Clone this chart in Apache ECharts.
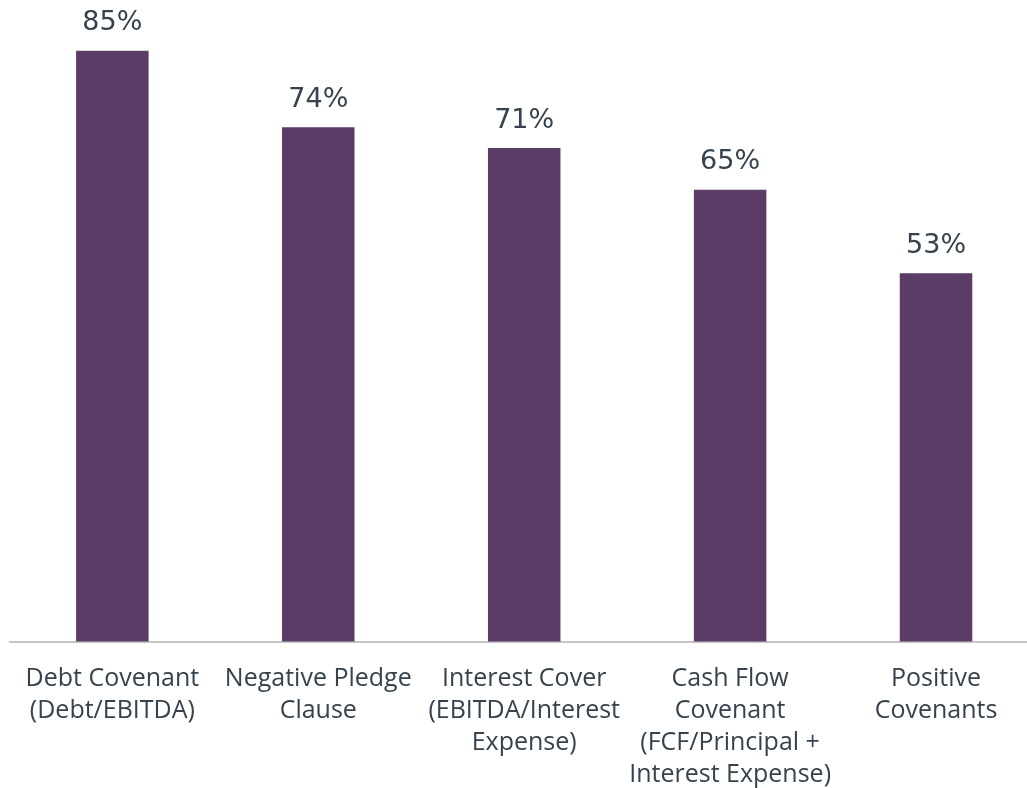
<!DOCTYPE html>
<html>
<head>
<meta charset="utf-8">
<script src="https://cdn.jsdelivr.net/npm/echarts@6/dist/echarts.min.js"></script>
<style>
  html, body { margin: 0; padding: 0; background: #ffffff; overflow: hidden; }
  #chart { width: 1039px; height: 788px; }
</style>
</head>
<body>
<div id="chart"></div>
<script>
// Covenant types and share of deals that include them
const categories = [
  'Debt Covenant\n(Debt/EBITDA)',
  'Negative Pledge\nClause',
  'Interest Cover\n(EBITDA/Interest\nExpense)',
  'Cash Flow\nCovenant\n(FCF/Principal +\nInterest Expense)',
  'Positive\nCovenants'
];
const shares = [85, 74, 71, 65, 53];

const chart = echarts.init(document.getElementById('chart'));
chart.setOption({
  animation: false,
  grid: {
    left: 9.4, right: 0, top: 0, bottom: 146.5,
    containLabel: false,
    outerBoundsMode: 'none'
  },
  xAxis: {
    type: 'category',
    data: categories,
    axisTick: { show: false },
    axisLine: { lineStyle: { color: '#b3b3b3', width: 1.5 } },
    axisLabel: {
      interval: 0,
      margin: 21,
      color: '#36434f',
      fontFamily: 'Open Sans',
      fontSize: 25,
      lineHeight: 32
    }
  },
  yAxis: {
    type: 'value',
    min: 0,
    max: 92.3,
    show: false,
    splitLine: { show: false }
  },
  series: [{
    type: 'bar',
    data: shares,
    barWidth: 72.5,
    itemStyle: { color: '#5a3c66' },
    label: {
      show: true,
      position: 'top',
      distance: 14,
      formatter: '{c}%',
      color: '#36434f',
      fontFamily: 'DejaVu Sans',
      fontSize: 27
    }
  }]
});
</script>
</body>
</html>
